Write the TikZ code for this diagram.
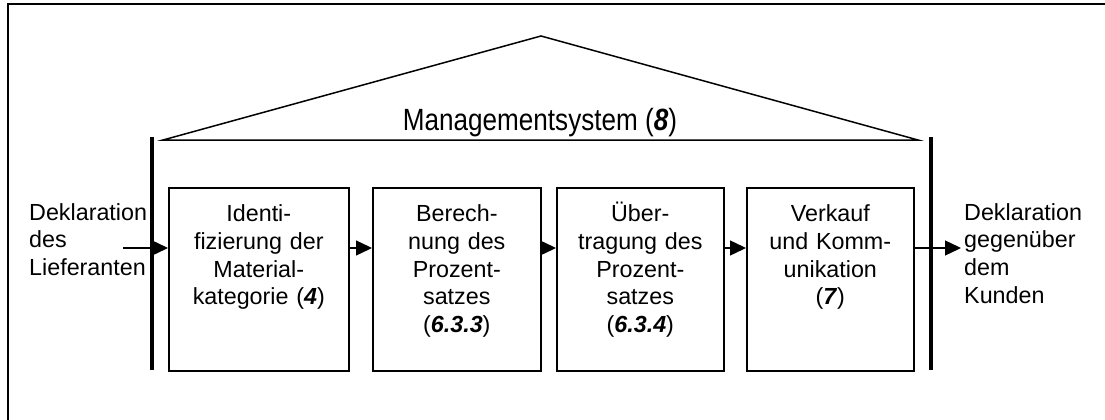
\documentclass[tikz,border=0pt]{standalone}
\usepackage{fontspec}
\setmainfont{Liberation Sans}
\usetikzlibrary{arrows.meta}

\begin{document}
\begin{tikzpicture}[x=1pt,y=-1pt,
    font=\fontsize{23.3}{27.7}\selectfont,
    flow/.style={-{Triangle[length=16pt,width=15pt]},line width=1.4pt},
    post/.style={line width=3.5pt},
    sidetext/.style={inner sep=0pt,align=left,text width=135pt,anchor=base west}]
\useasboundingbox (0,0) rectangle (1105,420);
\clip (0,0) rectangle (1105,420);
\draw[line width=1.6pt] (8,4) rectangle (1130,450);
% Dach
\draw[line width=1.5pt] (163,140) -- (541,36) -- (918,140) -- cycle;
\node[anchor=base] (ms) at (540,130)
    {\fontsize{30.7}{34}\selectfont\scalebox{0.85}[1]{Managementsystem (\textbf{\textit{8}})}};
\draw[post] (152,137) -- (152,370);
\draw[post] (931,137) -- (931,370);
\begin{scope}[every node/.style={draw,line width=1.6pt,anchor=north west,
    inner sep=0pt,align=center,text height=34pt,text depth=149pt}]
    \node[minimum width=180pt,text width=172pt] (b1) at (168,187)
        {Identi-\\fizierung der\\Material-\\kategorie (\textbf{\textit{4}})};
    \node[minimum width=168pt,text width=160pt] (b2) at (372,187)
        {Berech-\\nung des\\Prozent-\\satzes\\(\textbf{\textit{6.3.3}})};
    \node[minimum width=167pt,text width=160pt] (b3) at (556,187)
        {Über-\\tragung des\\Prozent-\\satzes\\(\textbf{\textit{6.3.4}})};
    \node[minimum width=167pt,text width=160pt] (b4) at (746,187)
        {Verkauf\\und Komm-\\unikation\\(\textbf{\textit{7}})};
\end{scope}
\node[sidetext] (lief) at (29,220) {Deklaration\\des\\Lieferanten};
\node[sidetext] (kund) at (964,220) {Deklaration\\gegenüber\\dem\\Kunden};
\coordinate (src) at (123,248);
\coordinate (dst) at (961,248);
\draw[flow] (src) -- ([yshift=-61pt]b1.north west);
\draw[flow] ([yshift=-61pt]b1.north east) -- ([yshift=-61pt]b2.north west);
\draw[flow] ([yshift=-61pt]b2.north east) -- ([yshift=-61pt]b3.north west);
\draw[flow] ([yshift=-61pt]b3.north east) -- ([yshift=-61pt]b4.north west);
\draw[flow] ([yshift=-61pt]b4.north east) -- (dst);
\end{tikzpicture}
\end{document}
